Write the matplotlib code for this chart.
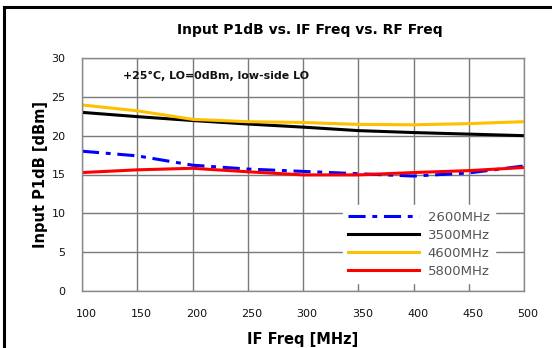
import matplotlib
matplotlib.use("Agg")
import matplotlib.pyplot as plt
from matplotlib.lines import Line2D
from matplotlib.transforms import ScaledTranslation

if_freq = [100, 150, 200, 250, 300, 350, 400, 450, 500]
p1db_2600 = [18.0, 17.4, 16.2, 15.7, 15.4, 15.1, 14.8, 15.2, 16.1]
p1db_3500 = [23.0, 22.45, 21.95, 21.5, 21.1, 20.65, 20.4, 20.2, 20.0]
p1db_4600 = [23.95, 23.2, 22.1, 21.8, 21.7, 21.45, 21.4, 21.55, 21.8]
p1db_5800 = [15.25, 15.6, 15.8, 15.35, 14.95, 14.95, 15.25, 15.5, 15.9]
labels = ["2600MHz", "3500MHz", "4600MHz", "5800MHz"]
xticks = [100, 150, 200, 250, 300, 350, 400, 450, 500]
yticks = [0, 5, 10, 15, 20, 25, 30]

fig = plt.figure(figsize=(5.52, 3.48), dpi=100)
ax = fig.add_axes([82/552, 1-291/348, 442/552, 233/348])

lw = 2.2
ax.plot(if_freq, p1db_2600, color="#0000FF", lw=lw, linestyle=(0, (5.6, 2.2, 1.6, 2.2)), label=labels[0])
ax.plot(if_freq, p1db_3500, color="#000000", lw=lw, label=labels[1])
ax.plot(if_freq, p1db_4600, color="#FFC000", lw=lw, label=labels[2])
ax.plot(if_freq, p1db_5800, color="#FF0000", lw=lw, label=labels[3])

ax.set_xlim(100, 500)
ax.set_ylim(0, 30)
ax.set_xticks(xticks)
ax.set_yticks(yticks)
ax.tick_params(length=0, labelsize=8, labelcolor="#111111")
ax.tick_params(axis="x", pad=13)
ax.tick_params(axis="y", pad=12)
offset = ScaledTranslation(4/100, 0, fig.dpi_scale_trans)
for lab in ax.get_xticklabels():
    lab.set_transform(lab.get_transform() + offset)
ax.grid(True, color="#7a7a7a", lw=1)
ax.set_axisbelow(True)
for s in ax.spines.values():
    s.set_color("#8a8a8a")
    s.set_linewidth(1)

ax.set_xlabel("IF Freq [MHz]", fontsize=10.5, fontweight="bold", labelpad=9)
ax.set_ylabel("Input P1dB [dBm]", fontsize=10.5, fontweight="bold", labelpad=2)

ax.text(137, 27.7, "+25°C, LO=0dBm, low-side LO", fontsize=7.9, fontweight="bold",
        va="center", ha="left", color="#111111")

fig.text(310/552, 1-30/348, "Input P1dB vs. IF Freq vs. RF Freq", fontsize=10,
         fontweight="bold", ha="center", va="center")

leg = ax.legend(loc="lower left", bbox_to_anchor=(0.575, 0.006), fontsize=9.5,
                handlelength=5.4, handletextpad=0.65, labelspacing=0.38,
                frameon=True, facecolor="white", edgecolor="white", framealpha=1,
                fancybox=False, borderpad=0.4)
for t in leg.get_texts():
    t.set_color("#555555")

fig.add_artist(Line2D([4/552, 1], [1-7/348, 1-7/348], color="black", lw=2.2,
                      transform=fig.transFigure))
fig.add_artist(Line2D([4/552, 4/552], [0, 1-7/348], color="black", lw=2.2,
                      transform=fig.transFigure))

fig.savefig("out.png", dpi=100)
